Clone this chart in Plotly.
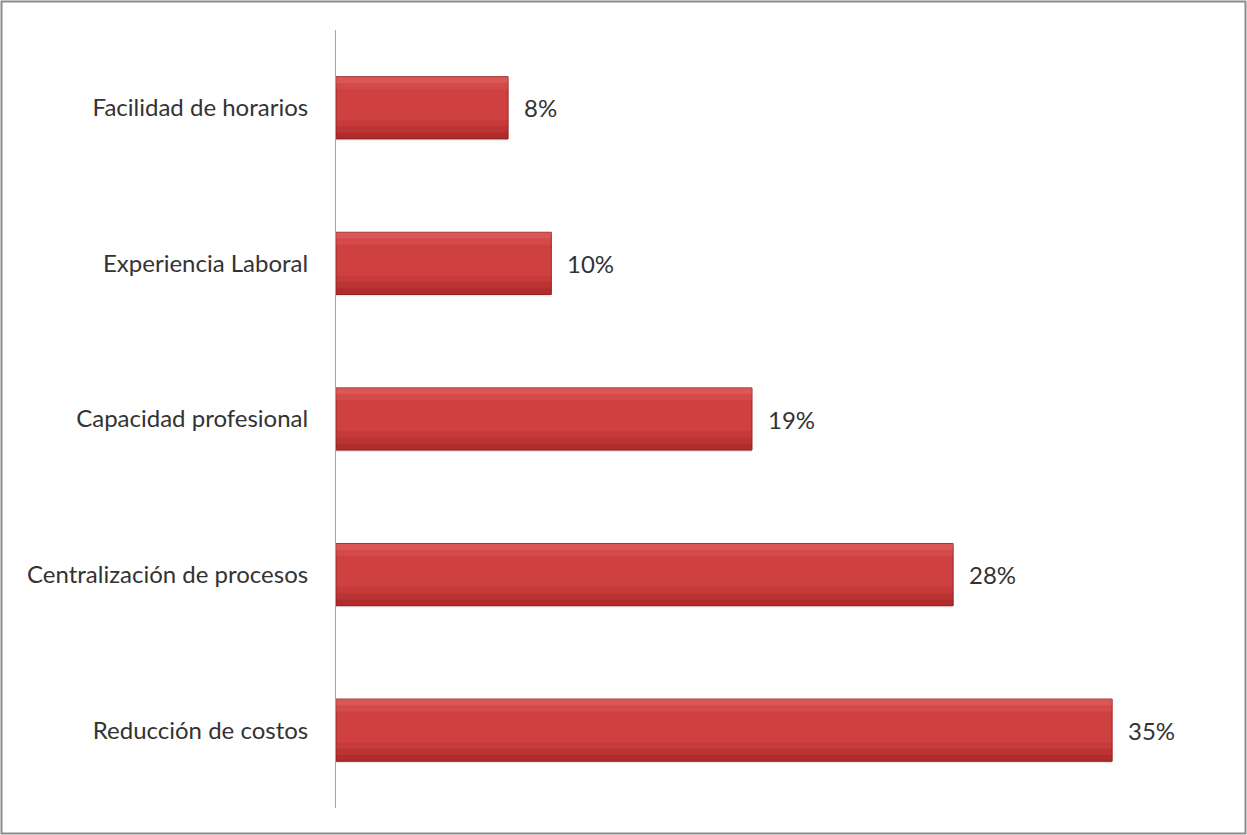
import plotly.graph_objects as go

categories = ["Reducción de costos", "Centralización de procesos", "Capacidad profesional",
              "Experiencia Laboral", "Facilidad de horarios"]
values = [35.0, 27.83, 18.76, 9.71, 7.76]
labels = ["35%", "28%", "19%", "10%", "8%"]

W, H = 1247, 835
ML, MR, MT, MB = 336, 24, 30, 27
pw, ph = W - ML - MR, H - MT - MB
FONT = "Lato"
FS = 24

fig = go.Figure()
# soft shadow
fig.add_trace(go.Bar(y=categories, x=values, orientation="h", width=0.4, offset=-0.212,
                     marker=dict(color="rgba(0,0,0,0.08)", line=dict(width=0)),
                     hoverinfo="skip", showlegend=False))
# main bar
fig.add_trace(go.Bar(y=categories, x=values, orientation="h", width=0.4, offset=-0.2,
                     marker=dict(color="#cf4040", line=dict(color="#9a2626", width=1)),
                     showlegend=False))
# lower shading strips (gradient-like)
for w, a in [(0.12, 0.10), (0.08, 0.12), (0.04, 0.16)]:
    fig.add_trace(go.Bar(y=categories, x=values, orientation="h", width=w, offset=-0.2,
                         marker=dict(color=f"rgba(120,10,10,{a})", line=dict(width=0)),
                         hoverinfo="skip", showlegend=False))
# top highlight
for w, a in [(0.08, 0.12), (0.04, 0.18)]:
    fig.add_trace(go.Bar(y=categories, x=values, orientation="h", width=w, offset=0.2 - w,
                         marker=dict(color=f"rgba(255,150,150,{a})", line=dict(width=0)),
                         hoverinfo="skip", showlegend=False))

for c, v, t in zip(categories, values, labels):
    fig.add_annotation(x=v, y=c, text=t, showarrow=False, xanchor="left", xshift=14,
                       font=dict(family=FONT, size=FS, color="#333333"))

fig.add_shape(type="rect", xref="paper", yref="paper",
              x0=(1.5 - ML) / pw, x1=(W - 1.5 - ML) / pw,
              y0=-(MB - 1.5) / ph, y1=(H - MB - 1.5) / ph,
              line=dict(color="#8c8c8c", width=2), fillcolor="rgba(0,0,0,0)", layer="below")

fig.update_layout(
    width=W, height=H, barmode="overlay",
    margin=dict(l=ML, r=MR, t=MT, b=MB),
    paper_bgcolor="white", plot_bgcolor="white",
    font=dict(family=FONT, size=FS, color="#333333"),
    xaxis=dict(range=[0, 40], visible=False, showgrid=False, zeroline=False),
    yaxis=dict(showline=True, linecolor="#a6a6a6", linewidth=1, showgrid=False,
               ticks="", ticklabelstandoff=22, range=[-0.5, 4.5], zeroline=False),
)
fig.write_html("out.html")
